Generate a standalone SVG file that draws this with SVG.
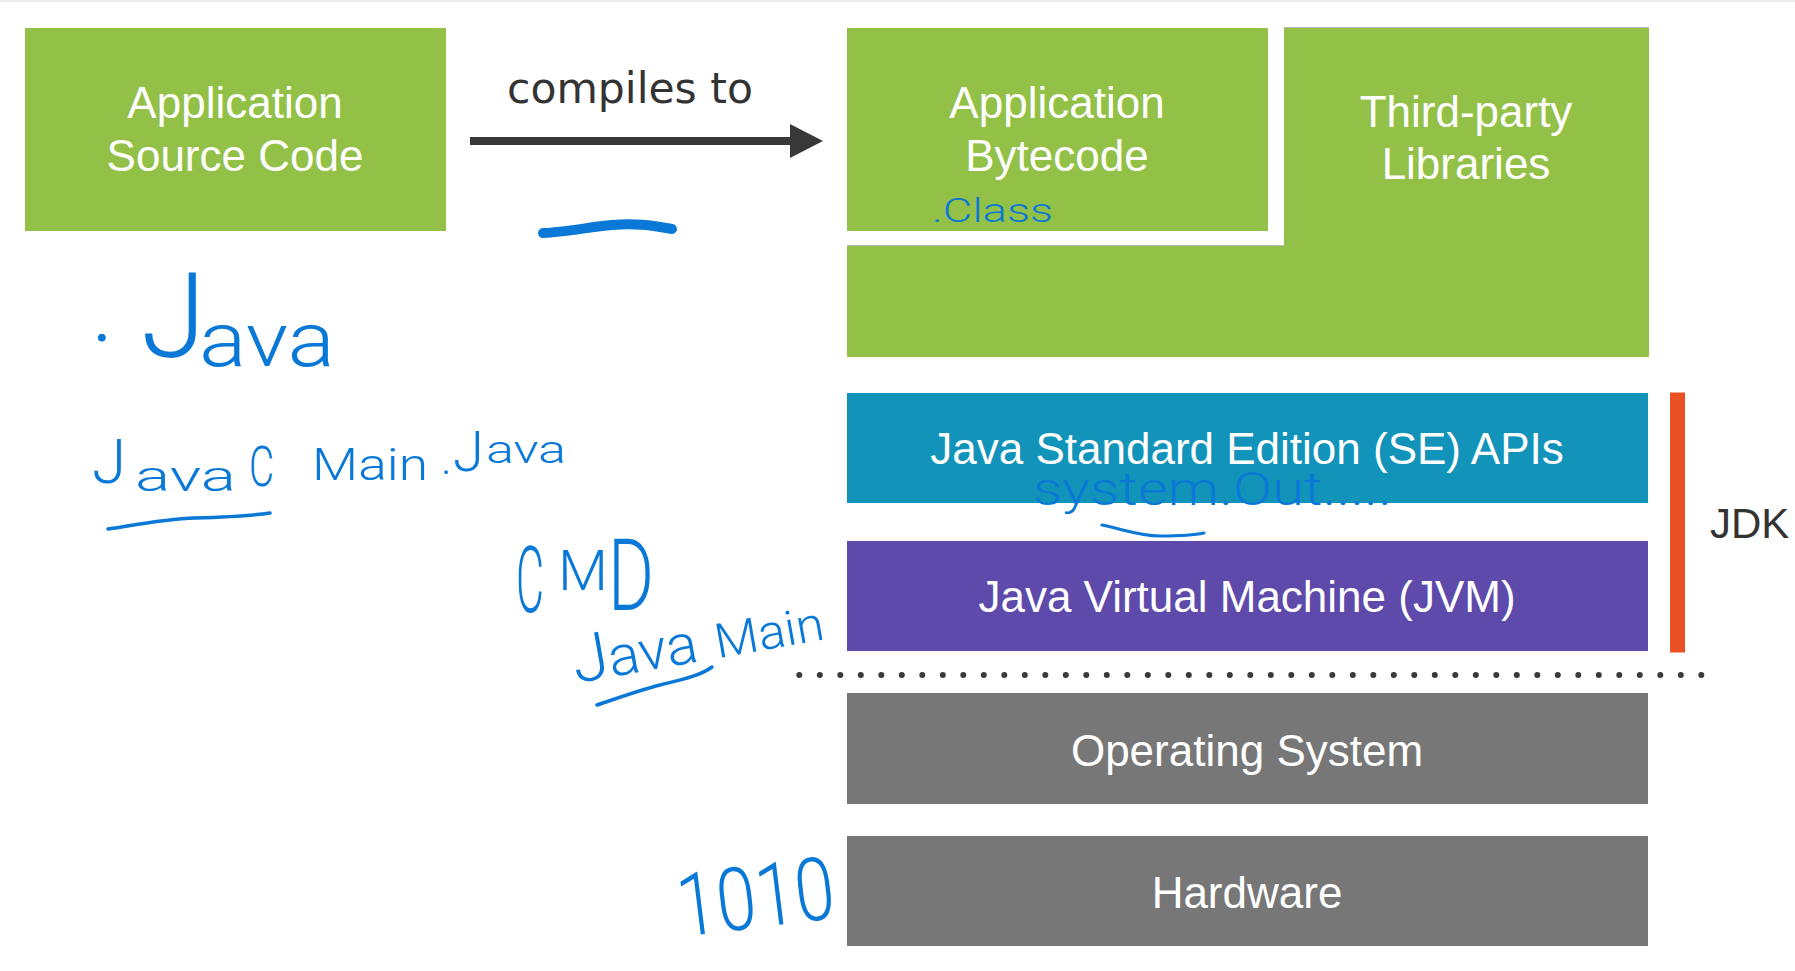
<svg xmlns="http://www.w3.org/2000/svg" width="1795" height="971" viewBox="0 0 1795 971">
  <style>
    .green { fill: #93C148; }
    .lbl { font-family: "Liberation Sans", Arial, sans-serif; font-size: 44px; fill: #FFFFFF; text-anchor: middle; }
    .dark { font-family: "Liberation Sans", Arial, sans-serif; fill: #333333; }
    .hand { font-family: Roboto, "Liberation Sans", sans-serif; font-weight: 300; fill: #0A78D6; }
    .ink { fill: none; stroke: #0A78D6; stroke-linecap: round; stroke-linejoin: round; }
  </style>
  <defs>
    <marker id="arrowHead" viewBox="0 0 34 34" markerWidth="34" markerHeight="34" refX="2" refY="17" orient="auto" markerUnits="userSpaceOnUse">
      <path d="M0,0 L33,17 L0,34 Z" fill="#383838"/>
    </marker>
  </defs>

  <rect x="0" y="0" width="1795" height="971" fill="#FFFFFF"/>
  <rect x="0" y="0" width="1795" height="2" fill="#ECECEC"/>

  <g id="node-source">
    <rect class="green" x="25" y="28" width="421" height="203"/>
    <text class="lbl" x="235" y="118">Application</text>
    <text class="lbl" x="235" y="171">Source Code</text>
  </g>

  <g id="node-bytecode">
    <rect class="green" x="847" y="28" width="421" height="203"/>
    <text class="lbl" x="1057" y="118">Application</text>
    <text class="lbl" x="1057" y="171">Bytecode</text>
  </g>

  <g id="node-thirdparty">
    <path class="green" d="M1284 27 H1649 V357 H847 V245 H1284 Z"/>
    <path d="M1284 27.5 H1649 M847 245.5 H1284" stroke="#B8B8B8" stroke-width="1" fill="none"/>
    <text class="lbl" x="1466" y="127">Third-party</text>
    <text class="lbl" x="1466" y="179">Libraries</text>
  </g>

  <g id="node-se">
    <rect x="847" y="393" width="801" height="110" fill="#1293B9"/>
    <text class="lbl" x="1247" y="463.5">Java Standard Edition (SE) APIs</text>
  </g>

  <g id="node-jvm">
    <rect x="847" y="541" width="801" height="110" fill="#5D4AAB"/>
    <text class="lbl" x="1247" y="611.5">Java Virtual Machine (JVM)</text>
  </g>

  <g id="node-os">
    <rect x="847" y="693" width="801" height="111" fill="#777777"/>
    <text class="lbl" x="1247" y="765.5">Operating System</text>
  </g>

  <g id="node-hardware">
    <rect x="847" y="836" width="801" height="110" fill="#777777"/>
    <text class="lbl" x="1247" y="908">Hardware</text>
  </g>

  <g id="jdk-bracket">
    <rect x="1670" y="392.5" width="15" height="260" fill="#E95125"/>
    <text class="dark" x="1710" y="538" font-size="42">JDK</text>
  </g>

  <g id="separator">
    <line x1="799.3" y1="675" x2="1702" y2="675" stroke="#3A3A3A" stroke-width="6" stroke-linecap="round" stroke-dasharray="0 20.5"/>
  </g>

  <g id="connectors">
    <line x1="470" y1="141" x2="792" y2="141" stroke="#383838" stroke-width="8" marker-end="url(#arrowHead)"/>
    <text x="630" y="102.5" font-family="DejaVu Sans, sans-serif" font-size="42.5" fill="#333333" text-anchor="middle">compiles to</text>
  </g>

  <g id="annotations">
    <path class="ink" d="M543 233 C565 232, 590 227, 612 225 S650 225, 672 229" stroke-width="10"/>

    <text class="hand">
      <tspan x="93" y="341" font-size="70" font-weight="400">.</tspan>
      <tspan x="141" y="357" font-size="118">J</tspan>
      <tspan x="199" y="366" font-size="76" textLength="136" lengthAdjust="spacingAndGlyphs">ava</tspan>
    </text>

    <text class="hand">
      <tspan x="92" y="483" font-size="62">J</tspan>
      <tspan x="135" y="491" font-size="42" textLength="101" lengthAdjust="spacingAndGlyphs">ava</tspan>
      <tspan x="249" y="486" font-size="56" textLength="25" lengthAdjust="spacingAndGlyphs">C</tspan>
      <tspan x="312" y="480" font-size="44" textLength="116" lengthAdjust="spacingAndGlyphs">Main</tspan>
      <tspan x="441" y="474" font-size="44">.</tspan>
      <tspan x="453" y="471" font-size="56">J</tspan>
      <tspan x="486" y="463" font-size="38" textLength="80" lengthAdjust="spacingAndGlyphs">ava</tspan>
    </text>
    <path class="ink" d="M108 529 C140 524, 165 519, 195 518 S250 516, 270 513" stroke-width="3.5"/>

    <text class="hand">
      <tspan x="516" y="612" font-size="92" textLength="28" lengthAdjust="spacingAndGlyphs">C</tspan>
      <tspan x="558" y="590" font-size="55" textLength="50" lengthAdjust="spacingAndGlyphs">M</tspan>
      <tspan x="608" y="610" font-size="100" textLength="46" lengthAdjust="spacingAndGlyphs">D</tspan>
    </text>

    <text class="hand" transform="rotate(-10 577 683)">
      <tspan x="576" y="683" font-size="66">J</tspan>
      <tspan x="612" y="683" font-size="56" textLength="90" lengthAdjust="spacingAndGlyphs">ava</tspan>
      <tspan x="720" y="683" font-size="48" textLength="110" lengthAdjust="spacingAndGlyphs">Main</tspan>
    </text>
    <path class="ink" d="M597 705 C618 698, 640 690, 660 685 S700 676, 712 667" stroke-width="3.5"/>

    <text class="hand" x="681" y="937" font-size="88" textLength="158" lengthAdjust="spacingAndGlyphs" transform="rotate(-7 681 937)">1010</text>

    <text class="hand" x="932" y="222" font-size="34" textLength="121" lengthAdjust="spacingAndGlyphs">.Class</text>

    <text class="hand" x="1033" y="505" font-size="46" textLength="359" lengthAdjust="spacingAndGlyphs">system.Out.....</text>
    <path class="ink" d="M1102 525 C1125 530, 1140 536, 1160 536 S1195 535, 1204 533" stroke-width="3"/>
  </g>
</svg>
